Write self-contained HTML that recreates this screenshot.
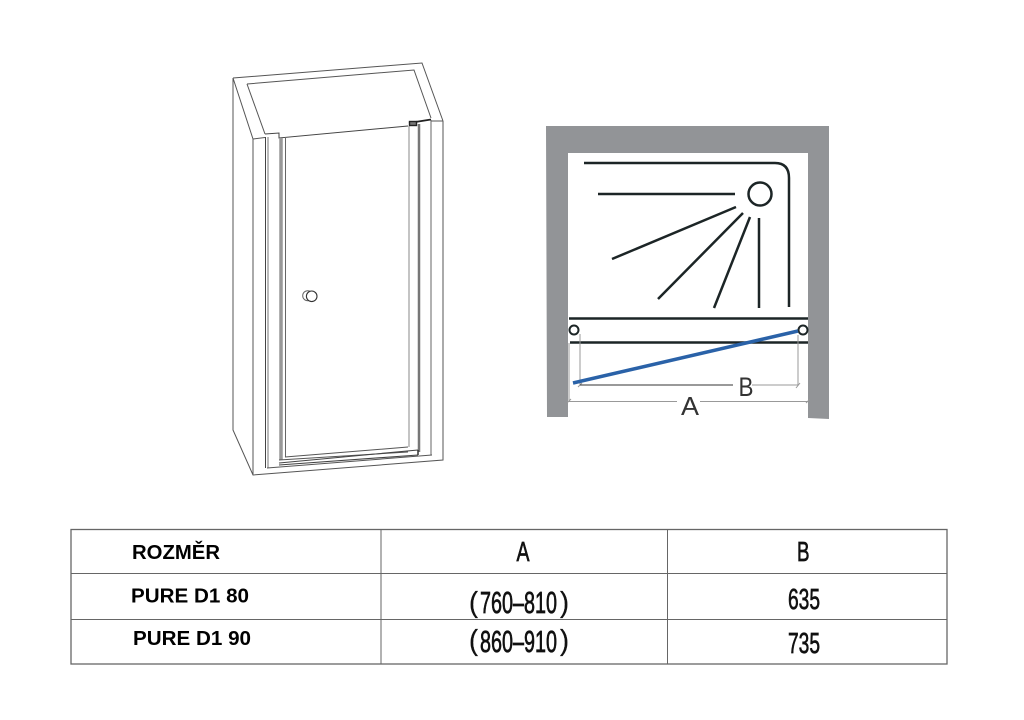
<!DOCTYPE html>
<html>
<head>
<meta charset="utf-8">
<style>
html,body{margin:0;padding:0;background:#fff;width:1024px;height:720px;overflow:hidden}
svg{display:block}
</style>
</head>
<body>
<svg width="1024" height="720" viewBox="0 0 1024 720" xmlns="http://www.w3.org/2000/svg">
<rect width="1024" height="720" fill="#fff"/>
<!-- door -->
<g fill="none" stroke="#555" stroke-width="1">
<path d="M233 78 L422 63 L443 121 M233 78 L253 139 M233 78 V430 L253 475 L443 460 V121"/>
<path d="M247 84 L414 70 L431 118"/>
<path d="M247 84 L265 134"/>
<path d="M253 139 V475"/>
<path d="M253 139 L265 137.500"/>
<path d="M265 134 L279 133 V138 L408 126" stroke="#444"/>
<path d="M431 121 L443 121"/>
<path d="M265.500 137 V468" stroke="#444"/>
<path d="M268 137 V468" stroke="#777"/>
<path d="M281 138 V460" stroke="#999" stroke-width="3.500"/>
<path d="M285.500 137 V457" stroke="#666"/>
<path d="M409 126 V447" stroke="#888"/>
<path d="M419 124 V452" stroke="#777" stroke-width="2.500"/>
<path d="M431 120 V455" stroke="#666"/>
<path d="M267 468 L432 455"/>
<path d="M285 457 L408 447 M279 460 L408 452"/>
<path d="M279 463 L418 450 M279 465 L418 455" stroke="#444" stroke-width="1.100"/>
<path d="M418 450 V455" stroke="#333" stroke-width="1.500"/>
<path d="M409 123 L431 119.500" stroke="#222" stroke-width="1.800"/>
<rect x="409.500" y="121.500" width="7" height="4" stroke="#222" stroke-width="1.400" fill="#777"/>
<circle cx="307.700" cy="295.700" r="5" stroke="#666"/>
<circle cx="311.700" cy="296.300" r="5.300" fill="#fff" stroke="#333" stroke-width="1.100"/>
</g>
<!-- plan walls -->
<path d="M546 126 H829 V419 L808 418 V153 H568 V417 L547 417 Z" fill="#929497"/>
<!-- tray -->
<g fill="none" stroke="#1c2526" stroke-width="2.500" stroke-linecap="butt">
<path d="M584 163 H775 Q789 163 789 178 V307"/>
<path d="M598 194 H735"/>
<circle cx="760" cy="194" r="11.500"/>
<path d="M736 207 L612 259 M743 213 L658 299 M750 217 L714 308 M759 218 V308"/>
<path d="M569 318.500 H808 M570 342.500 H808"/>
<circle cx="574" cy="330" r="4.500" stroke-width="2" fill="#fff"/>
<circle cx="803" cy="330" r="4.500" stroke-width="2" fill="#fff"/>
</g>
<g fill="none" stroke="#999" stroke-width="1">
<path d="M580 334 V385 M798 335 V385 M569 343 V402 M752 385 H798 M700 401.500 H808 M569 401.500 H677"/>
<path d="M578 387 L582 383 M796 388 L800 383 M567 403 L571 399 M806 403 L810 399"/>
</g>
<path d="M580 385 H733" stroke="#333" stroke-width="1"/>
<path d="M573 383 L798 331" stroke="#2a62a8" stroke-width="3.500"/>
<text x="738.500" y="396" font-family="'Liberation Sans',sans-serif" font-size="27" fill="#333" textLength="15" lengthAdjust="spacingAndGlyphs">B</text>
<text x="681" y="415" font-family="'Liberation Sans',sans-serif" font-size="26" fill="#333" textLength="18" lengthAdjust="spacingAndGlyphs">A</text>
<!-- table -->
<g stroke="#666" fill="none">
<rect x="71" y="529.500" width="876" height="134.500" stroke-width="1.300"/>
<path d="M71 573.500 H947 M71 619.500 H947 M381 529 V664 M667.500 529 V664" stroke-width="1"/>
</g>
<g font-family="'Liberation Sans',sans-serif" font-weight="bold" font-size="20" fill="#000">
<text x="132" y="559" textLength="88" lengthAdjust="spacingAndGlyphs">ROZMĚR</text>
<text x="131" y="602.500" textLength="118" lengthAdjust="spacingAndGlyphs">PURE D1 80</text>
<text x="133" y="645" textLength="118" lengthAdjust="spacingAndGlyphs">PURE D1 90</text>
</g>
<g font-family="'Liberation Sans',sans-serif" fill="#111" stroke="#111" stroke-width="0.700">
<text x="516.500" y="561" font-size="28" textLength="13" lengthAdjust="spacingAndGlyphs">A</text>
<text x="797" y="561" font-size="28" textLength="12.500" lengthAdjust="spacingAndGlyphs">B</text>
<text x="469" y="612" font-size="29" stroke-width="0.300" textLength="9" lengthAdjust="spacingAndGlyphs">(</text>
<text x="480" y="613" font-size="31" textLength="77" lengthAdjust="spacingAndGlyphs">760–810</text>
<text x="560" y="612" font-size="29" stroke-width="0.300" textLength="9" lengthAdjust="spacingAndGlyphs">)</text>
<text x="469" y="650" font-size="29" stroke-width="0.300" textLength="9" lengthAdjust="spacingAndGlyphs">(</text>
<text x="480" y="652" font-size="31" textLength="77" lengthAdjust="spacingAndGlyphs">860–910</text>
<text x="560" y="650" font-size="29" stroke-width="0.300" textLength="9" lengthAdjust="spacingAndGlyphs">)</text>
<text x="788" y="609" font-size="29" textLength="32" lengthAdjust="spacingAndGlyphs">635</text>
<text x="788" y="653" font-size="29" textLength="32" lengthAdjust="spacingAndGlyphs">735</text>
</g>
</svg>
</body>
</html>
